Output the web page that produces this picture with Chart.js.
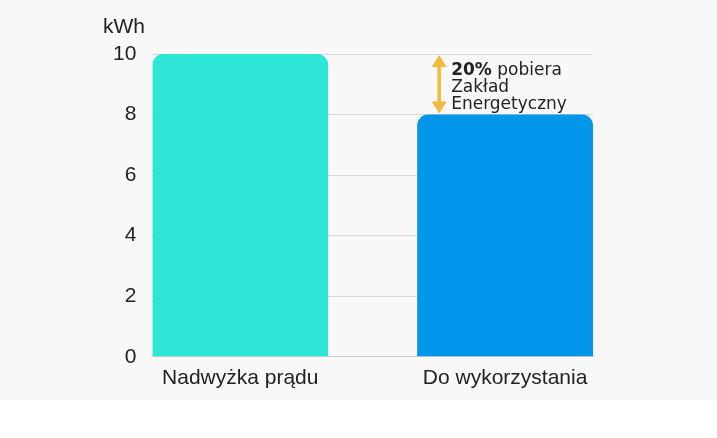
<!DOCTYPE html>
<html>
<head>
<meta charset="utf-8">
<script src="https://cdn.jsdelivr.net/npm/chart.js@4"></script>
<style>
html,body{margin:0;padding:0;background:#ffffff;}
#wrap{position:relative;width:717px;height:400px;background:#f8f8f8;}
</style>
</head>
<body>
<div id="wrap"><canvas id="c" width="717" height="400"></canvas></div>
<script>
const categories = ["Nadwyżka prądu", "Do wykorzystania"];
const values = [10, 8];
const barColors = ["#2de6d5", "#0296eb"];
const yTicks = [0, 2, 4, 6, 8, 10];
const unitLabel = "kWh";
const noteBold = "20%";
const noteLines = [" pobiera", "Zakład", "Energetyczny"];

const annot = {
  id: 'annot',
  afterDatasetsDraw(chart) {
    const ctx = chart.ctx;
    const y = chart.scales.y;
    ctx.save();
    ctx.fillStyle = '#222';
    ctx.font = '21px "Liberation Sans", Arial, sans-serif';
    ctx.textAlign = 'left';
    ctx.textBaseline = 'alphabetic';
    ctx.fillText(unitLabel, 103, 33);
    const meta = chart.getDatasetMeta(0).data[1];
    const ax = meta.x - meta.width / 2 + 22;
    const yTop = y.getPixelForValue(values[0]);
    const yBot = y.getPixelForValue(values[1]);
    ctx.strokeStyle = '#f4b93a';
    ctx.fillStyle = '#f4b93a';
    ctx.lineWidth = 3.5;
    ctx.beginPath();
    ctx.moveTo(ax, yTop + 8);
    ctx.lineTo(ax, yBot - 8);
    ctx.stroke();
    ctx.beginPath();
    ctx.moveTo(ax, yTop + 1); ctx.lineTo(ax - 7.5, yTop + 13); ctx.lineTo(ax + 7.5, yTop + 13); ctx.closePath(); ctx.fill();
    ctx.beginPath();
    ctx.moveTo(ax, yBot - 1); ctx.lineTo(ax - 7.5, yBot - 13); ctx.lineTo(ax + 7.5, yBot - 13); ctx.closePath(); ctx.fill();
    const tx = ax + 12;
    ctx.fillStyle = '#222';
    ctx.font = 'bold 17px "DejaVu Sans", sans-serif';
    ctx.fillText(noteBold, tx, 75);
    const bw = ctx.measureText(noteBold).width;
    ctx.font = '17px "DejaVu Sans", sans-serif';
    ctx.fillText(noteLines[0], tx + bw, 75);
    ctx.fillText(noteLines[1], tx, 92);
    ctx.fillText(noteLines[2], tx, 108.5);
    ctx.restore();
  }
};

new Chart(document.getElementById('c'), {
  type: 'bar',
  data: {
    datasets: [{
      data: values.map((v, i) => ({x: i, y: v})),
      backgroundColor: barColors,
      borderRadius: {topLeft: 11, topRight: 11, bottomLeft: 0, bottomRight: 0},
      borderSkipped: false,
      barPercentage: 0.664,
      categoryPercentage: 1.0
    }]
  },
  options: {
    responsive: false,
    animation: false,
    devicePixelRatio: 1,
    layout: {padding: {left: 97, right: 124, top: 54, bottom: 0}},
    plugins: {legend: {display: false}, tooltip: {enabled: false}},
    scales: {
      x: {
        type: 'linear',
        offset: false,
        bounds: 'data',
        min: -0.332, max: categories.length - 1 + 0.332,
        afterBuildTicks(s) { s.ticks = categories.map((c, i) => ({value: i})); },
        grid: {display: false, drawTicks: false},
        border: {display: true, color: '#cccccc', width: 1},
        ticks: {color: '#222', font: {family: '"Liberation Sans", Arial, sans-serif', size: 21}, padding: 9,
                autoSkip: false, maxRotation: 0,
                callback: (v) => categories[v]}
      },
      y: {
        min: 0, max: 10,
        afterBuildTicks(s) { s.ticks = yTicks.map(v => ({value: v})); },
        grid: {color: '#d9d9d9', drawTicks: false},
        border: {display: false},
        ticks: {color: '#222', font: {family: '"Liberation Sans", Arial, sans-serif', size: 21}, padding: 16}
      }
    }
  },
  plugins: [annot]
});
</script>
</body>
</html>
